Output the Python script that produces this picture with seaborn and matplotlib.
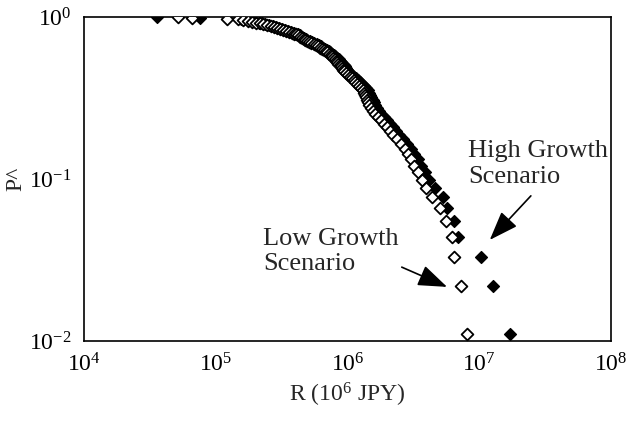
import numpy as np
import pandas as pd
import seaborn as sns
import matplotlib.pyplot as plt
import matplotlib.ticker as mticker

# exceedance probability (rank / 91), shared by both scenarios
exceed_prob = [1.000, 0.989, 0.978, 0.967, 0.956, 0.945, 0.934, 0.923, 0.912, 0.901,
               0.890, 0.879, 0.868, 0.857, 0.846, 0.835, 0.824, 0.813, 0.802, 0.791,
               0.780, 0.769, 0.758, 0.747, 0.736, 0.725, 0.714, 0.703, 0.692, 0.681,
               0.670, 0.659, 0.648, 0.637, 0.626, 0.615, 0.604, 0.593, 0.582, 0.571,
               0.560, 0.549, 0.538, 0.527, 0.516, 0.505, 0.495, 0.484, 0.473, 0.462,
               0.451, 0.440, 0.429, 0.418, 0.407, 0.396, 0.385, 0.374, 0.363, 0.352,
               0.341, 0.330, 0.319, 0.308, 0.297, 0.286, 0.275, 0.264, 0.253, 0.242,
               0.231, 0.220, 0.209, 0.198, 0.187, 0.176, 0.165, 0.154, 0.143, 0.132,
               0.121, 0.110, 0.099, 0.088, 0.077, 0.066, 0.055, 0.044, 0.033, 0.022,
               0.011]

# R values (JPY) for the low growth scenario (open diamonds)
low_R = [5.2e4, 6.6e4, 1.22e5, 1.48e5, 1.61e5, 1.76e5, 1.88e5, 2.02e5, 2.17e5, 2.28e5,
         2.45e5, 2.63e5, 2.77e5, 2.92e5, 3.07e5, 3.24e5, 3.41e5, 3.60e5, 3.79e5, 3.93e5,
         4.07e5, 4.21e5, 4.36e5, 4.52e5, 4.68e5, 4.76e5, 4.93e5, 5.10e5, 5.28e5, 5.57e5,
         5.77e5, 5.97e5, 6.18e5, 6.40e5, 6.63e5, 6.87e5, 6.99e5, 7.24e5, 7.50e5, 7.63e5,
         7.76e5, 8.04e5, 8.18e5, 8.32e5, 8.47e5, 8.77e5, 8.93e5, 9.08e5, 9.24e5, 9.41e5,
         9.74e5, 1.01e6, 1.05e6, 1.08e6, 1.12e6, 1.14e6, 1.18e6, 1.22e6, 1.27e6, 1.31e6,
         1.33e6, 1.36e6, 1.38e6, 1.41e6, 1.43e6, 1.46e6, 1.51e6, 1.56e6, 1.62e6, 1.70e6,
         1.80e6, 1.89e6, 1.99e6, 2.10e6, 2.22e6, 2.38e6, 2.55e6, 2.73e6, 2.88e6, 3.03e6,
         3.20e6, 3.43e6, 3.68e6, 3.94e6, 4.38e6, 5.04e6, 5.59e6, 6.21e6, 6.43e6, 7.27e6,
         8.07e6]

# R values for the high growth scenario (filled diamonds)
high_R = [3.6e4, 7.6e4, 1.55e5, 1.65e5, 1.78e5, 1.90e5, 2.00e5, 2.12e5, 2.25e5, 2.36e5,
          2.52e5, 2.70e5, 2.85e5, 3.00e5, 3.16e5, 3.34e5, 3.52e5, 3.72e5, 3.92e5, 4.07e5,
          4.22e5, 4.37e5, 4.53e5, 4.70e5, 4.87e5, 4.97e5, 5.15e5, 5.34e5, 5.54e5, 5.84e5,
          6.05e5, 6.28e5, 6.50e5, 6.74e5, 6.99e5, 7.25e5, 7.40e5, 7.67e5, 7.95e5, 8.10e5,
          8.26e5, 8.56e5, 8.72e5, 8.88e5, 9.05e5, 9.38e5, 9.56e5, 9.74e5, 9.93e5, 1.01e6,
          1.05e6, 1.09e6, 1.13e6, 1.17e6, 1.21e6, 1.24e6, 1.28e6, 1.33e6, 1.38e6, 1.43e6,
          1.46e6, 1.49e6, 1.52e6, 1.55e6, 1.58e6, 1.61e6, 1.67e6, 1.73e6, 1.80e6, 1.90e6,
          2.00e6, 2.11e6, 2.22e6, 2.34e6, 2.47e6, 2.65e6, 2.84e6, 3.05e6, 3.22e6, 3.40e6,
          3.59e6, 3.85e6, 4.13e6, 4.61e6, 5.33e6, 5.66e6, 6.43e6, 6.86e6, 1.03e7, 1.28e7,
          1.71e7]

df_low = pd.DataFrame({"R": low_R, "P": exceed_prob})
df_high = pd.DataFrame({"R": high_R, "P": exceed_prob})

sns.set_style("white")
plt.rcParams["font.family"] = ["Liberation Serif", "DejaVu Serif"]
plt.rcParams["mathtext.fontset"] = "custom"
plt.rcParams["mathtext.rm"] = "Liberation Serif"
plt.rcParams["mathtext.it"] = "Liberation Serif:italic"
plt.rcParams["axes.unicode_minus"] = False

fig = plt.figure(figsize=(6.33, 4.22), dpi=100)
ax = fig.add_axes([0.1327, 0.1919, 0.8325, 0.7678])

sns.scatterplot(data=df_high, x="R", y="P", marker="D", s=36, color="black",
                edgecolor="black", linewidth=1.0, ax=ax, zorder=3)
sns.scatterplot(data=df_low, x="R", y="P", marker="D", s=36, color="white",
                edgecolor="black", linewidth=1.3, ax=ax, zorder=4)

ax.set_xscale("log")
ax.set_yscale("log")
ax.set_xlim(1e4, 1e8)
ax.set_ylim(1e-2, 1e0)
ax.xaxis.set_major_locator(mticker.LogLocator(base=10, numticks=10))
ax.yaxis.set_major_locator(mticker.LogLocator(base=10, numticks=10))
ax.xaxis.set_minor_locator(mticker.NullLocator())
ax.yaxis.set_minor_locator(mticker.NullLocator())
ax.tick_params(axis="both", which="major", direction="in", length=4, width=1,
               labelsize=17, pad=9, colors="black")
for sp in ax.spines.values():
    sp.set_color("black")
    sp.set_linewidth(1.2)

ax.set_xlabel("R (10$^6$ JPY)", fontsize=17, labelpad=3)
ax.set_ylabel("P^", fontsize=17, labelpad=2)

arrow = dict(arrowstyle="-|>,head_length=0.9,head_width=0.33", mutation_scale=20,
             lw=1.2, color="black", shrinkA=0, shrinkB=0)
ax.text(0.729, 0.620, "High Growth\nScenario", transform=ax.transAxes,
        fontsize=19, ha="left", va="top", linespacing=1.2)
ax.annotate("", xy=(0.770, 0.312), xytext=(0.848, 0.448),
            xycoords="axes fraction", textcoords="axes fraction", arrowprops=arrow)
ax.text(0.340, 0.349, "Low Growth\nScenario", transform=ax.transAxes,
        fontsize=19, ha="left", va="top", linespacing=1.2)
ax.annotate("", xy=(0.689, 0.167), xytext=(0.603, 0.228),
            xycoords="axes fraction", textcoords="axes fraction", arrowprops=arrow)

fig.savefig("out.png", dpi=100)
